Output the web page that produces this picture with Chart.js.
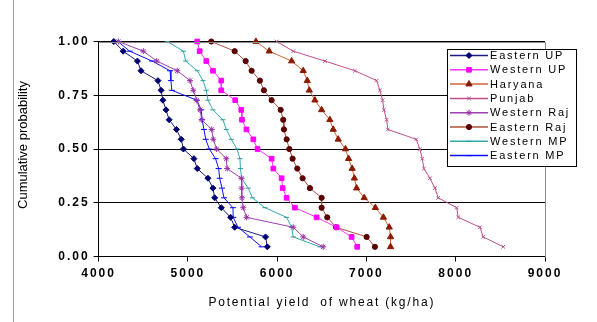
<!DOCTYPE html>
<html>
<head>
<meta charset="utf-8">
<script src="https://cdn.jsdelivr.net/npm/chart.js@4.4.1/dist/chart.umd.min.js"></script>
<style>
  html, body { margin: 0; padding: 0; background: #fff; }
  #chart { display: block; background: #fff; }
</style>
</head>
<body>
<canvas id="chart" width="597" height="322"></canvas>
<script>
// cumulative probability of each ranked year (22 years per region)
const probability = [1.000, 0.955, 0.909, 0.864, 0.818, 0.773, 0.727, 0.682, 0.636, 0.591, 0.545,
                     0.500, 0.455, 0.409, 0.364, 0.318, 0.273, 0.227, 0.182, 0.136, 0.091, 0.045];

const xTicks = [4000, 5000, 6000, 7000, 8000, 9000];
const yTicks = [0, 0.25, 0.5, 0.75, 1];

// potential yield (kg/ha), ranked from lowest to highest
const easternUP  = [4170, 4275, 4435, 4475, 4665, 4700, 4720, 4755, 4790, 4872, 4925,
                    4950, 5068, 5105, 5225, 5281, 5300, 5374, 5479, 5524, 5870, 5890];
const westernUP  = [5105, 5132, 5206, 5281, 5374, 5374, 5530, 5598, 5606, 5656, 5733,
                    5780, 5938, 5957, 6050, 6062, 6106, 6199, 6442, 6666, 6834, 6897];
const haryana    = [5762, 5911, 6162, 6292, 6337, 6360, 6423, 6498, 6590, 6628, 6684,
                    6765, 6800, 6840, 6865, 6890, 6975, 7100, 7190, 7255, 7270, 7270];
const punjab     = [5994, 6180, 6535, 6871, 7114, 7151, 7181, 7196, 7226, 7240, 7557,
                    7598, 7625, 7644, 7711, 7767, 7804, 8010, 8028, 8271, 8308, 8532];
const westernRaj = [4221, 4501, 4651, 4881, 5024, 5060, 5098, 5136, 5155, 5267, 5284,
                    5322, 5430, 5440, 5600, 5602, 5606, 5620, 5658, 6180, 6292, 6516];
const easternRaj = [5262, 5524, 5647, 5714, 5807, 5852, 5938, 6039, 6068, 6076, 6106,
                    6136, 6173, 6225, 6285, 6367, 6498, 6498, 6561, 6660, 7002, 7095];
const westernMP  = [4769, 4950, 4975, 5105, 5170, 5206, 5225, 5281, 5393, 5430, 5486,
                    5550, 5583, 5589, 5602, 5676, 5723, 5863, 6106, 6162, 6180, 6479];
const easternMP  = [4217, 4348, 4600, 4800, 4810, 4820, 5100, 5150, 5160, 5180, 5200,
                    5240, 5310, 5345, 5356, 5382, 5404, 5505, 5508, 5561, 5695, 5826];

const FONT = "'Liberation Sans', Arial, sans-serif";

function series(label, yields, line, marker, markerColor, radius) {
  return {
    label: label,
    data: yields.map((x, i) => ({ x: x, y: probability[i] })),
    showLine: true,
    borderColor: line,
    borderWidth: 1,
    pointStyle: marker,
    pointRadius: radius,
    pointHoverRadius: radius,
    pointBackgroundColor: markerColor,
    pointBorderColor: markerColor,
    pointBorderWidth: 1,
    tension: 0,
    clip: false
  };
}

const datasets = [
  series("Eastern UP", easternUP, "#1a1a80", "rectRot", "#000070", 3),
  series("Western UP", westernUP, "#ff33ff", "rect", "#ff00ff", 3.3),
  series("Haryana", haryana, "#cc6633", "triangle", "#8b1a00", 3.6),
  series("Punjab", punjab, "#c0508c", "crossRot", "#c0508c", 2.5),
  series("Western Raj", westernRaj, "#a040b0", "star", "#9a2fa6", 3),
  series("Eastern Raj", easternRaj, "#b0503c", "circle", "#5a0000", 2.6),
  series("Western MP", westernMP, "#33aaaa", "line", "#2a9a9a", 2.5),
  series("Eastern MP", easternMP, "#1010ff", "line", "#0000ff", 3)
];

// frame, axis titles and the boxed legend
const decorations = {
  id: "decorations",
  beforeDraw(chart) {
    chart.ctx.letterSpacing = "2px";
  },
  afterDraw(chart) {
    const ctx = chart.ctx;
    const area = chart.chartArea;
    ctx.save();
    ctx.letterSpacing = "0px";

    ctx.strokeStyle = "#8c8c8c";
    ctx.lineWidth = 1;
    ctx.beginPath();
    ctx.moveTo(Math.round(area.left) + 0.5, Math.round(area.top) + 0.5);
    ctx.lineTo(Math.round(area.right) + 0.5, Math.round(area.top) + 0.5);
    ctx.lineTo(Math.round(area.right) + 0.5, Math.round(area.bottom) + 0.5);
    ctx.stroke();

    ctx.strokeStyle = "#a0a0a0";
    ctx.beginPath();
    ctx.moveTo(13.5, 0);
    ctx.lineTo(13.5, 322);
    ctx.stroke();

    ctx.fillStyle = "#000";
    ctx.font = "12px " + FONT;
    ctx.textAlign = "center";
    ctx.textBaseline = "middle";
    ctx.letterSpacing = "1.8px";
    ctx.fillText("Potential yield  of wheat (kg/ha)", (area.left + area.right) / 2, 303);
    ctx.letterSpacing = "0px";

    ctx.save();
    ctx.translate(23, (area.top + area.bottom) / 2 - 4);
    ctx.rotate(-Math.PI / 2);
    ctx.font = "13px " + FONT;
    ctx.fillText("Cumulative probability", 0, 0);
    ctx.restore();

    // legend
    const box = { x: 447, y: 49, w: 129, h: 117 };
    ctx.fillStyle = "#fff";
    ctx.fillRect(box.x, box.y, box.w, box.h);
    ctx.strokeStyle = "#000";
    ctx.lineWidth = 1;
    ctx.strokeRect(box.x + 0.5, box.y + 0.5, box.w, box.h);

    ctx.font = "11px " + FONT;
    ctx.textAlign = "left";
    ctx.letterSpacing = "1.8px";
    chart.data.datasets.forEach((ds, i) => {
      const y = 55.5 + i * 14.3;
      ctx.strokeStyle = ds.borderColor;
      ctx.lineWidth = 1.5;
      ctx.beginPath();
      ctx.moveTo(450, y);
      ctx.lineTo(488, y);
      ctx.stroke();
      ctx.fillStyle = ds.pointBackgroundColor;
      ctx.strokeStyle = ds.pointBorderColor;
      ctx.lineWidth = 1;
      Chart.helpers.drawPoint(ctx, {
        pointStyle: ds.pointStyle, radius: ds.pointRadius, rotation: 0, borderWidth: 1
      }, 469, y);
      ctx.fillStyle = "#000";
      ctx.fillText(ds.label, 490, y + 0.5);
    });
    ctx.restore();
  }
};

new Chart(document.getElementById("chart"), {
  type: "scatter",
  data: { datasets: datasets },
  options: {
    responsive: false,
    animation: false,
    events: [],
    layout: { padding: { left: 10, top: 41.5, right: 52, bottom: 10 } },
    plugins: { legend: { display: false }, tooltip: { enabled: false } },
    scales: {
      x: {
        type: "linear",
        min: xTicks[0],
        max: xTicks[xTicks.length - 1],
        afterBuildTicks: s => { s.ticks = xTicks.map(v => ({ value: v })); },
        ticks: {
          color: "#000",
          padding: 5,
          maxRotation: 0,
          callback: v => String(v),
          font: { family: FONT, size: 12, weight: "bold" }
        },
        grid: { drawOnChartArea: false, tickLength: 5, tickColor: "#000", color: "#000" },
        border: { color: "#000", width: 1 },
        afterFit: s => { s.height = 55.5; }
      },
      y: {
        type: "linear",
        min: yTicks[0],
        max: yTicks[yTicks.length - 1],
        afterBuildTicks: s => { s.ticks = yTicks.map(v => ({ value: v })); },
        ticks: {
          color: "#000",
          padding: 4,
          callback: v => v.toFixed(2),
          font: { family: FONT, size: 12, weight: "bold" }
        },
        grid: { tickLength: 5, color: "#000", tickColor: "#000", lineWidth: 1 },
        border: { color: "#000", width: 1 },
        afterFit: s => { s.width = 88.6; }
      }
    }
  },
  plugins: [decorations]
});
</script>
</body>
</html>
